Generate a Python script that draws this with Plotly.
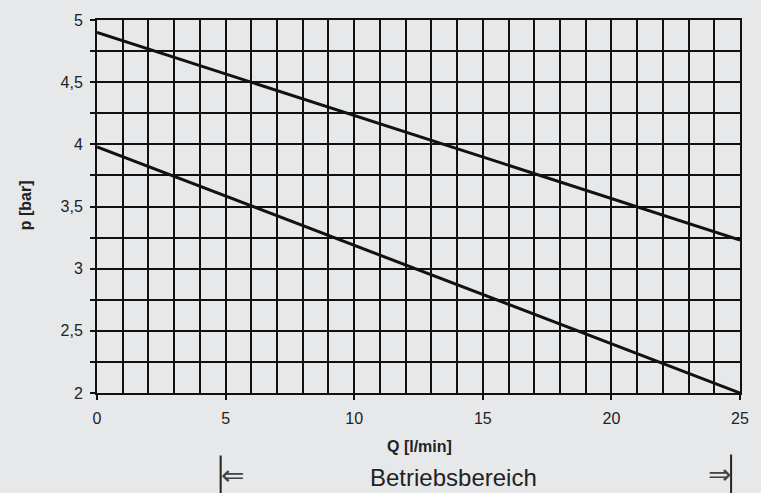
import plotly.graph_objects as go

Q = [0, 25]
p_upper = [4.90, 3.23]
p_lower = [3.98, 2.00]

x_ticks = [0, 5, 10, 15, 20, 25]
y_ticks = [2, 2.5, 3, 3.5, 4, 4.5, 5]

BG = "#e7e8ea"
TXT = "#222222"
INK = "#111111"

W, H = 761, 493
L, R, T, B = 97, 14, 17, 100
PW, PH = W - L - R, H - T - B


def px(xp):
    return (xp - L) / PW


def py(yp):
    return (H - B - yp) / PH


fig = go.Figure()
for p in (p_upper, p_lower):
    fig.add_trace(go.Scatter(x=Q, y=p, mode="lines",
                             line=dict(color=INK, width=3),
                             showlegend=False, hoverinfo="skip"))

fig.update_layout(
    width=W, height=H,
    paper_bgcolor=BG, plot_bgcolor=BG,
    margin=dict(l=L, r=R, t=T, b=B),
    separators=",.",
    font=dict(family="Liberation Sans, Arial, sans-serif", color=TXT, size=16),
    xaxis=dict(range=[0, 25], tickvals=x_ticks, ticks="outside", ticklen=5,
               tickwidth=2, tickcolor=INK, ticklabelstandoff=5,
               showgrid=True, gridcolor=INK, gridwidth=2,
               minor=dict(dtick=1, showgrid=True, gridcolor=INK, gridwidth=2, ticks=""),
               zeroline=False, showline=True, linecolor=INK, linewidth=2, mirror=True,
               tickfont=dict(size=16)),
    yaxis=dict(range=[2, 5], tickvals=y_ticks, ticks="outside", ticklen=5,
               tickwidth=2, tickcolor=INK, ticklabelstandoff=4,
               showgrid=True, gridcolor=INK, gridwidth=2,
               minor=dict(dtick=0.25, showgrid=True, gridcolor=INK, gridwidth=2,
                          ticks="outside", ticklen=5, tickwidth=2, tickcolor=INK),
               zeroline=False, showline=True, linecolor=INK, linewidth=2, mirror=True,
               tickfont=dict(size=16)),
)

# axis titles
fig.add_annotation(xref="paper", yref="paper", x=px(423), y=py(447),
                   text="<b>Q [l/min]</b>", showarrow=False,
                   xanchor="center", yanchor="middle", font=dict(size=16, color=TXT))
fig.add_annotation(xref="paper", yref="paper", x=px(25), y=py(204),
                   text="<b>p [bar]</b>", showarrow=False, textangle=-90,
                   xanchor="center", yanchor="middle", font=dict(size=16, color=TXT))

# Betriebsbereich bracket
fig.add_shape(type="line", xref="paper", yref="paper",
              x0=px(222), x1=px(222), y0=py(456), y1=py(500),
              line=dict(color="#222222", width=2))
fig.add_shape(type="line", xref="paper", yref="paper",
              x0=px(738), x1=px(738), y0=py(455), y1=py(500),
              line=dict(color="#222222", width=2))
fig.add_annotation(xref="paper", yref="paper", x=px(234), y=py(476),
                   text="⇐", showarrow=False, xanchor="center", yanchor="middle",
                   font=dict(size=28, color="#444444", family="DejaVu Sans"))
fig.add_annotation(xref="paper", yref="paper", x=px(726), y=py(475),
                   text="⇒", showarrow=False, xanchor="center", yanchor="middle",
                   font=dict(size=28, color="#444444", family="DejaVu Sans"))
fig.add_annotation(xref="paper", yref="paper", x=px(457), y=py(478),
                   text="Betriebsbereich", showarrow=False, xanchor="center", yanchor="middle",
                   font=dict(size=24, color=TXT))

fig.write_html("out.html", config={"displayModeBar": False},
               post_script="document.body.style.margin='0';document.body.style.overflow='hidden';")
